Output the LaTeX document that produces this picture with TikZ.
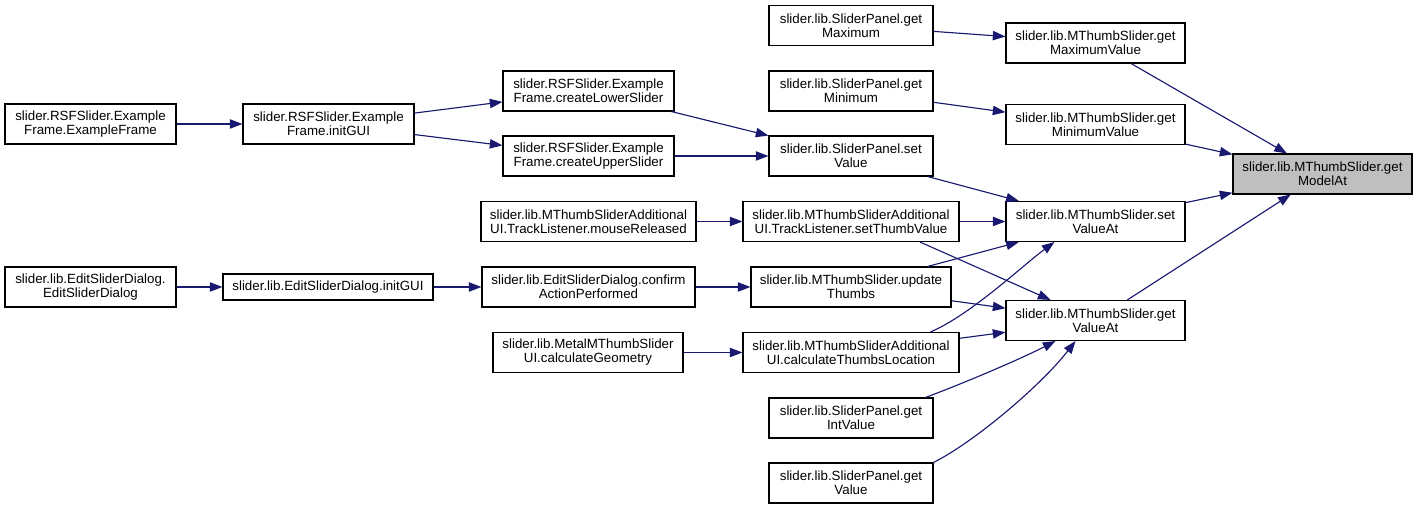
\documentclass[tikz,border=0pt]{standalone}
\usepackage{fontspec}
\setmainfont{Liberation Sans}
\usetikzlibrary{calc,arrows.meta}
\definecolor{edgeblue}{HTML}{191970}
\definecolor{curgray}{HTML}{BFBFBF}
\tikzset{
  fn/.style    = {draw, fill=white, line width=0.8pt, minimum height=30pt,
                  inner sep=1pt, align=center,
                  font=\fontsize{10}{10.5}\selectfont},
  fnl/.style   = {fn, minimum height=19.5pt},
  fncur/.style = {fn, fill=curgray},
  call/.style  = {draw=edgeblue, line width=0.85pt,
                  -{Triangle[length=9.5pt,width=7pt]}},
}
\begin{document}
\begin{tikzpicture}[x=0.75pt,y=0.75pt]
  \useasboundingbox (0,0) rectangle (1417,509);
  % callers, left to right
  \node[fn,minimum width=128.25pt] (exf) at (90.5,385) {slider.RSFSlider.Example\\Frame.ExampleFrame};
  \node[fn,minimum width=128.25pt] (rsfinit) at (328.5,385) {slider.RSFSlider.Example\\Frame.initGUI};
  \node[fn,minimum width=128.25pt] (esd) at (90.5,222) {slider.lib.EditSliderDialog.\\EditSliderDialog};
  \node[fnl,minimum width=157.5pt] (esdinit) at (328,222) {slider.lib.EditSliderDialog.initGUI};
  \node[fn,minimum width=128.25pt] (lower) at (588.5,418) {slider.RSFSlider.Example\\Frame.createLowerSlider};
  \node[fn,minimum width=128.25pt] (upper) at (588.5,353) {slider.RSFSlider.Example\\Frame.createUpperSlider};
  \node[fn,minimum width=161.25pt] (mouse) at (588.5,287.5) {slider.lib.MThumbSliderAdditional\\UI.TrackListener.mouseReleased};
  \node[fn,minimum width=159.75pt] (confirm) at (588.5,222) {slider.lib.EditSliderDialog.confirm\\ActionPerformed};
  \node[fn,minimum width=142.5pt] (geom) at (588,156.5) {slider.lib.MetalMThumbSlider\\UI.calculateGeometry};
  % SliderPanel and friends
  \node[fn,minimum width=123pt] (spmax) at (851,483.5) {slider.lib.SliderPanel.get\\Maximum};
  \node[fn,minimum width=123pt] (spmin) at (851,418) {slider.lib.SliderPanel.get\\Minimum};
  \node[fn,minimum width=123pt] (spset) at (851,353) {slider.lib.SliderPanel.set\\Value};
  \node[fn,minimum width=162pt] (thumbval) at (851,287.5) {slider.lib.MThumbSliderAdditional\\UI.TrackListener.setThumbValue};
  \node[fn,minimum width=150pt] (update) at (851,222) {slider.lib.MThumbSlider.update\\Thumbs};
  \node[fn,minimum width=162pt] (thloc) at (851,156.5) {slider.lib.MThumbSliderAdditional\\UI.calculateThumbsLocation};
  \node[fn,minimum width=123pt] (spint) at (851,91) {slider.lib.SliderPanel.get\\IntValue};
  \node[fn,minimum width=123pt] (spval) at (851,26) {slider.lib.SliderPanel.get\\Value};
  % MThumbSlider
  \node[fn,minimum width=134.25pt] (maxv) at (1095.5,466) {slider.lib.MThumbSlider.get\\MaximumValue};
  \node[fn,minimum width=134.25pt] (minv) at (1095.5,384.5) {slider.lib.MThumbSlider.get\\MinimumValue};
  \node[fn,minimum width=134.25pt] (setat) at (1095.5,287.5) {slider.lib.MThumbSlider.set\\ValueAt};
  \node[fn,minimum width=134.25pt] (getat) at (1095.5,188.5) {slider.lib.MThumbSlider.get\\ValueAt};
  \node[fncur,minimum width=134.25pt] (model) at (1322.5,335) {slider.lib.MThumbSlider.get\\ModelAt};
  % calls
  \draw[call] (exf) -- (rsfinit);
  \draw[call] (rsfinit) -- (lower);
  \draw[call] (rsfinit) -- (upper);
  \draw[call] (lower) -- (spset);
  \draw[call] (upper) -- (spset);
  \draw[call] (esd) -- (esdinit);
  \draw[call] (esdinit) -- (confirm);
  \draw[call] (confirm) -- (update);
  \draw[call] (mouse) -- (thumbval);
  \draw[call] (geom) -- (thloc);
  \draw[call] (spmax) -- (maxv);
  \draw[call] (spmin) -- (minv);
  \draw[call] (spset) -- (setat);
  \draw[call] (thumbval) -- (setat);
  \draw[call] ($(thumbval.south)+(69,0)$) -- ($(getat.north)+(-45,0)$);
  \draw[call] (update) -- (setat);
  \draw[call] (update) -- (getat);
  \draw[call] ($(thloc.north east)+(-29,0)$) .. controls +(40,17) and +(-30,-22) .. ($(setat.south west)+(49,0)$);
  \draw[call] (thloc) -- (getat);
  \draw[call] ($(spint.north east)+(-8,0)$) .. controls +(40,15) and +(-35,-18) .. ($(getat.south)+(-40,0)$);
  \draw[call] (spval.north east) .. controls +(40,20) and +(-35,-45) .. ($(getat.south)+(-20,0)$);
  \draw[call] (maxv) -- (model);
  \draw[call] (minv) -- (model);
  \draw[call] (setat) -- (model);
  \draw[call] (getat) -- (model);
\end{tikzpicture}
\end{document}
